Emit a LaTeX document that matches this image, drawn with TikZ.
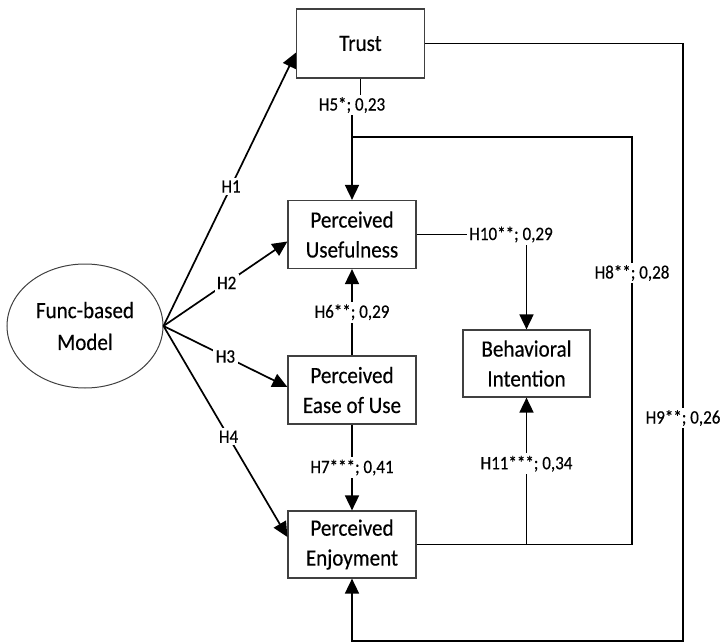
\documentclass[tikz,border=0pt]{standalone}
\usepackage{fontspec}
\setmainfont[FakeStretch=0.9,FakeBold=0.35]{Carlito}
\usetikzlibrary{arrows.meta,shapes.geometric}

\begin{document}
\begin{tikzpicture}[x=1bp,y=-1bp,
  box/.style={draw=black!75, line width=1.2bp, minimum width=128bp,
    minimum height=68bp, inner sep=0pt, align=center, text=black,
    font=\fontsize{23.5}{30}\selectfont},
  lbl/.style={fill=white, inner sep=2.5bp, text=black,
    font=\fontsize{19}{22}\selectfont},
  link/.style={line width=1.7bp, draw=black},
  arr/.style={link, -{Triangle[length=15bp,width=14bp]}},
]
\useasboundingbox (0,0) rectangle (721,644);

% constructs
\node[box, minimum height=69bp] (trust) at (360.5,43.5) {Trust};
\node[box] (pu) at (352,234.5) {Perceived\\Usefulness};
\node[box] (peou) at (352,390) {Perceived\\Ease of Use};
\node[box, minimum height=67bp] (pe) at (352,544.5) {Perceived\\Enjoyment};
\node[box, minimum width=127bp, minimum height=67bp] (bi) at (526.5,363.5) {Behavioral\\Intention};
\node[ellipse, draw=black!75, line width=1bp, minimum width=156bp,
  minimum height=124bp, inner sep=0pt, align=center, text=black,
  font=\fontsize{23.5}{32}\selectfont] (fbm) at (85,326) {Func-based\\Model};

% paths from the model
\draw[arr] (fbm.east) -- node[lbl,pos=0.51] (l1) {H1} ([yshift=26bp]trust.south west);
\draw[arr] (fbm.east) -- node[lbl,pos=0.51] (l2) {H2} ([yshift=-7bp]pu.west);
\draw[arr] (fbm.east) -- node[lbl,pos=0.5] (l3) {H3} ([yshift=3bp]peou.west);
\draw[arr] (fbm.east) -- node[lbl,pos=0.525] (l4) {H4} ([yshift=7.5bp]pe.west);

% trust -> usefulness
\coordinate (h5) at (356,105);
\draw[arr] (trust.south) |- (h5) -| (pu.north);
\node[lbl] (l5) at (352,105) {H5*; 0,23};

% enjoyment -> usefulness
\coordinate (j8) at (632,137);
\draw[link] (pe.east) -| (j8) -- (pu.north |- j8);
\node[lbl] (l8) at (632,273) {H8**; 0,28};

% trust -> enjoyment
\coordinate (c9) at (683,641);
\draw[arr] (trust.east) -| (c9) -| (pe.south);
\node[lbl] (l9) at (683,418) {H9**; 0,26};

% usefulness -> intention
\draw[arr] (pu.east) -| (bi.north);
\node[lbl] (l10) at (511,234.5) {H10**; 0,29};

% enjoyment -> intention
\coordinate (j11) at (bi.south |- pe.east);
\draw[arr] (j11) -- node[lbl,pos=0.55] (l11) {H11***; 0,34} (bi.south);

% ease of use -> usefulness, enjoyment
\draw[arr] (peou.north) -- node[lbl] (l6) {H6**; 0,29} (pu.south);
\draw[arr] (peou.south) -- node[lbl] (l7) {H7***; 0,41} (pe.north);
\end{tikzpicture}
\end{document}
